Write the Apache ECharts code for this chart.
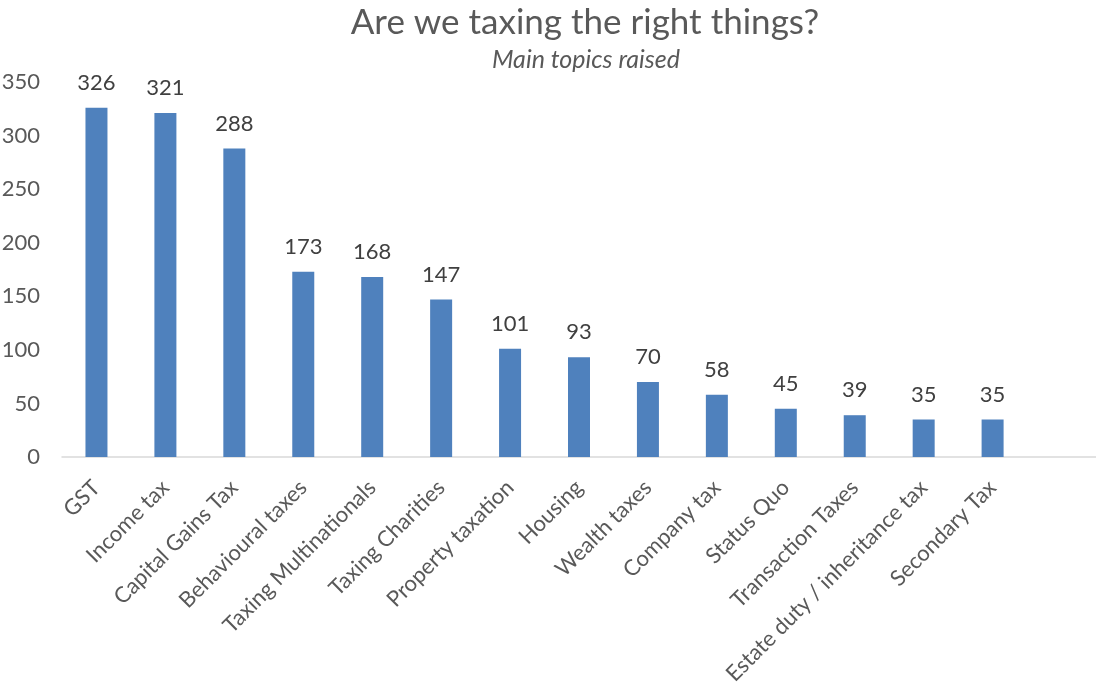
<!DOCTYPE html>
<html>
<head>
<meta charset="utf-8">
<script src="https://cdn.jsdelivr.net/npm/echarts@6/dist/echarts.min.js"></script>
<style>html,body{margin:0;padding:0;background:#fff}#c{width:1096px;height:685px}</style>
</head>
<body>
<div id="c"></div>
<script>
var categories = ["GST","Income tax","Capital Gains Tax","Behavioural taxes","Taxing Multinationals","Taxing Charities","Property taxation","Housing","Wealth taxes","Company tax","Status Quo","Transaction Taxes","Estate duty / inheritance tax","Secondary Tax",""];
var values = [326,321,288,173,168,147,101,93,70,58,45,39,35,35,null];
var yTicks = [0,50,100,150,200,250,300,350];

var chart = echarts.init(document.getElementById('c'));
var font = 'Lato, "Open Sans", sans-serif';
chart.setOption({
  animation: false,
  title: [{
    text: 'Are we taxing the right things?',
    left: 580, top: 0, textAlign: 'center',
    textStyle: {fontFamily: font, fontSize: 35, fontWeight: 'normal', color: '#595959'}
  },{
    text: 'Main topics raised',
    left: 581, top: 42, textAlign: 'center',
    textStyle: {fontFamily: font, fontSize: 25, fontStyle: 'italic', fontWeight: 'normal', color: '#595959'}
  }],
  grid: {left: 62, right: 0, top: 82, bottom: 228, containLabel: false, outerBoundsMode: 'none'},
  xAxis: {
    type: 'category',
    data: categories,
    axisLine: {lineStyle: {color: '#D9D9D9', width: 1.5}},
    axisTick: {show: false},
    axisLabel: {rotate: 45, interval: 0, margin: 27, fontFamily: font, fontSize: 22, color: '#595959'}
  },
  yAxis: {
    type: 'value', min: yTicks[0], max: yTicks[yTicks.length-1], interval: 50,
    splitLine: {show: false},
    axisLine: {show: false},
    axisTick: {show: false},
    axisLabel: {margin: 22, fontFamily: font, fontSize: 22, color: '#595959'}
  },
  series: [{
    type: 'bar',
    data: values,
    barWidth: 22,
    itemStyle: {color: '#4F81BD'},
    label: {show: true, position: 'top', distance: 14, fontFamily: font, fontSize: 22, color: '#404040'}
  }]
});
</script>
</body>
</html>
